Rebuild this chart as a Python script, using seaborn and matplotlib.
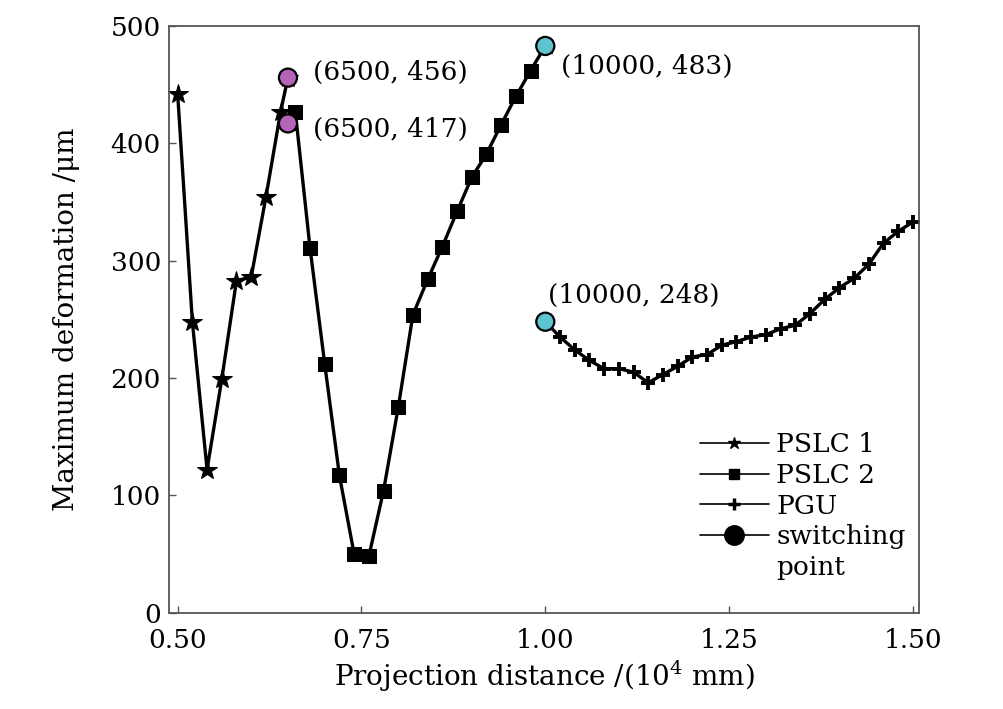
import numpy as np
import pandas as pd
import seaborn as sns
import matplotlib
matplotlib.use("Agg")
import matplotlib.pyplot as plt
from matplotlib.lines import Line2D

# datos (x en 10^4 mm, y en um)
x_pslc1 = [0.50, 0.52, 0.54, 0.56, 0.58, 0.60, 0.62, 0.64, 0.65]
y_pslc1 = [442, 248, 122, 199, 283, 286, 354, 427, 456]

x_pslc2 = [0.65, 0.66, 0.68, 0.70, 0.72, 0.74, 0.76, 0.78, 0.80, 0.82,
           0.84, 0.86, 0.88, 0.90, 0.92, 0.94, 0.96, 0.98, 1.00]
y_pslc2 = [417, 427, 311, 212, 117, 50, 48, 104, 175, 254,
           284, 312, 342, 371, 391, 416, 440, 462, 483]

x_pgu = [1.00, 1.02, 1.04, 1.06, 1.08, 1.10, 1.12, 1.14, 1.16, 1.18, 1.20,
         1.22, 1.24, 1.26, 1.28, 1.30, 1.32, 1.34, 1.36, 1.38, 1.40,
         1.42, 1.44, 1.46, 1.48, 1.50]
y_pgu = [248, 235, 224, 215, 208, 208, 205, 196, 203, 210, 218,
         220, 228, 231, 235, 237, 242, 245, 255, 267, 277,
         285, 297, 315, 325, 333]

sw_x = [0.65, 0.65, 1.00, 1.00]
sw_y = [456, 417, 483, 248]
sw_labels = ["(6500, 456)", "(6500, 417)", "(10000, 483)", "(10000, 248)"]
sw_colors = ["#b565b8", "#b565b8", "#5ec4d2", "#5ec4d2"]

sns.set_style("ticks")
plt.rcParams["font.family"] = ["DejaVu Serif"]
plt.rcParams["mathtext.fontset"] = "dejavuserif"
plt.rcParams["text.color"] = "black"
plt.rcParams["axes.labelcolor"] = "black"

fig = plt.figure(figsize=(10.04, 7.09), dpi=100)
ax = fig.add_axes([0.1686, 0.1358, 0.747, 0.8275])

linea = dict(color="black", linewidth=2.4, sort=False, estimator=None)
sns.lineplot(x=x_pslc1, y=y_pslc1, marker="*", markersize=15,
             markeredgecolor="black", ax=ax, **linea)
sns.lineplot(x=x_pslc2, y=y_pslc2, marker="s", markersize=9.5,
             markeredgecolor="black", ax=ax, **linea)
sns.lineplot(x=x_pgu, y=y_pgu, marker="+", markersize=10,
             markeredgewidth=2.8, markeredgecolor="black", ax=ax, **linea)

df_sw = pd.DataFrame({"x": sw_x, "y": sw_y, "c": sw_colors})
sns.scatterplot(data=df_sw, x="x", y="y", hue="c", palette={c: c for c in sw_colors},
                s=170, edgecolor="black", linewidth=1.6, zorder=5, legend=False, ax=ax)

offsets = [(18, 4), (18, -4), (11, -15), (2, 19)]
for xs, ys, lab, off in zip(sw_x, sw_y, sw_labels, offsets):
    ax.annotate(lab, (xs, ys), xytext=off, textcoords="offset points",
                ha="left", va="center", fontsize=19)

ax.set_xlim(0.4886, 1.5086)
ax.set_ylim(0, 500)
ax.set_xticks([0.50, 0.75, 1.00, 1.25, 1.50])
ax.set_xticklabels(["0.50", "0.75", "1.00", "1.25", "1.50"])
ax.set_yticks([0, 100, 200, 300, 400, 500])
ax.tick_params(direction="in", length=5, width=1, colors="#555555",
               labelcolor="black", labelsize=19)
ax.tick_params(axis="x", pad=11)
ax.tick_params(axis="y", pad=6)
for s in ax.spines.values():
    s.set_color("#555555")
    s.set_linewidth(1.3)

ax.set_xlabel(r"Projection distance /(10$^4$ mm)", fontsize=20, labelpad=4)
ax.set_ylabel("Maximum deformation /μm", fontsize=20, labelpad=22)

handles = [
    Line2D([], [], color="black", lw=1.2, marker="*", ms=9),
    Line2D([], [], color="black", lw=1.2, marker="s", ms=7),
    Line2D([], [], color="black", lw=1.2, marker="+", ms=9, mew=2.5),
    Line2D([], [], color="black", lw=1.2, marker="o", ms=14),
    Line2D([], [], color="none"),
]
ax.legend(handles, ["PSLC 1", "PSLC 2", "PGU", "switching", "point"],
          loc="upper left", bbox_to_anchor=(0.7076, 0.308), frameon=False,
          fontsize=19, handlelength=2.6, handletextpad=0.3, labelspacing=0.22,
          borderaxespad=0, borderpad=0)

fig.savefig("out.png", dpi=100)
